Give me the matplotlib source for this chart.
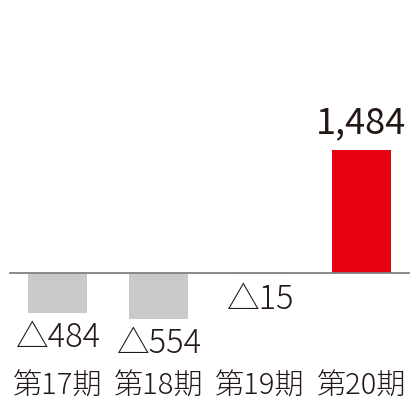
import matplotlib
matplotlib.use("Agg")
import matplotlib.pyplot as plt
import matplotlib.transforms as mtransforms

categories = ["第17期", "第18期", "第19期", "第20期"]
values = [-484, -554, -15, 1484]
colors = ["#c9c9c9", "#c9c9c9", "#c9c9c9", "#e60012"]

plt.rcParams['font.family'] = ['Noto Sans CJK JP', 'DejaVu Sans']

fig = plt.figure(figsize=(4.2, 4.2), dpi=100)
ax = fig.add_axes([0, 0, 1, 1])
ax.set_xlim(-0.574, 3.584)
ax.set_ylim(-1773, 3293)
ax.axis('off')

x = list(range(len(categories)))
bars = ax.bar(x, values, width=0.584, color=colors, zorder=2)
ax.plot([-0.475, 3.475], [0, 0], color="#808080", linewidth=1.3, zorder=3)

def fmt(v):
    return ("△" if v < 0 else "") + f"{abs(v):,}"

for xi, v in zip(x, values):
    if v > 0:
        ax.annotate(fmt(v), xy=(xi, v), xytext=(0, 19), textcoords="offset points",
                    ha="center", va="center", fontsize=26, color="#231815",
                    fontweight="normal")
    else:
        ax.annotate(fmt(v), xy=(xi, v), xytext=(0, -18), textcoords="offset points",
                    ha="center", va="center", fontsize=23.5, color="#231815",
                    fontweight="light")

trans = mtransforms.blended_transform_factory(ax.transData, ax.transAxes)
for xi, c in zip(x, categories):
    ax.text(xi, 0.079, c, transform=trans, ha="center", va="center",
            fontsize=21, color="#231815", fontweight="light")

fig.savefig("out.png", dpi=100)
